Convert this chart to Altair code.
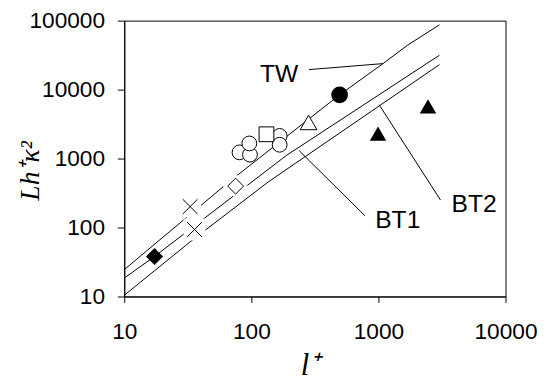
import altair as alt
import pandas as pd

# ---- axis ticks ----
x_ticks = [10, 100, 1000, 10000]
y_ticks = [10, 100, 1000, 10000, 100000]

# ---- model curves ----
tw_x = [10, 66.7, 495, 1086, 1694, 3020]
tw_y = [24.5, 459, 8400, 23800, 44000, 87000]
bt1_x = [10, 17.3, 188, 3020]
bt1_y = [18.5, 38, 1104, 31500]
bt2_x = [10, 33.6, 136, 3020]
bt2_y = [10.4, 63.7, 459, 23000]

# ---- data points ----
filled_diamond_x = [17.3]
filled_diamond_y = [38]
cross_x = [33, 35.7]
cross_y = [201, 93.6]
open_diamond_x = [75.2]
open_diamond_y = [398]
circle_x = [80.7, 97.5, 96.4, 167, 167]
circle_y = [1230, 1140, 1656, 2130, 1585]
square_x = [131.5]
square_y = [2250]
open_tri_x = [282]
open_tri_y = [3340]
filled_circle_x = [495]
filled_circle_y = [8400]
filled_tri_x = [993, 2455]
filled_tri_y = [2300, 5710]

# ---- annotations ----
labels = ["TW", "BT1", "BT2"]
label_x = [165.6, 1419, 5663]
label_y = [16900, 126, 220]
leader_x = [284.5, 238, 1012]
leader_y = [19500, 1300, 6040]
leader_x2 = [1086, 783, 3076]
leader_y2 = [23800, 148, 251]

x_scale = alt.Scale(type="log", domain=[10, 10000], nice=False)
y_scale = alt.Scale(type="log", domain=[10, 100000], nice=False)

common_axis = dict(
    grid=False, format="d", tickColor="black", tickWidth=1,
    domainColor="black", domainWidth=1, labelColor="black",
    labelFont="Liberation Sans", labelFontSize=23, labelFlush=False,
    labelOverlap=False, titleFont="Liberation Serif", titleFontStyle="italic",
    titleFontWeight="normal", titleColor="black",
)
x_axis = alt.Axis(values=x_ticks, tickSize=6, labelPadding=19, title="l\u207a",
                  titleFontSize=31, titleX=188, titleY=79, titleAlign="center",
                  titleBaseline="alphabetic", **common_axis)
y_axis = alt.Axis(values=y_ticks, tickSize=7, labelPadding=13, title="Lh\u207a\u03ba\u00b2",
                  titleFontSize=28, titleAngle=270, titleX=-87, titleY=152,
                  titleAlign="center", titleBaseline="alphabetic", **common_axis)


def X(f="x"):
    return alt.X(f + ":Q", scale=x_scale, axis=x_axis)


def Y(f="y"):
    return alt.Y(f + ":Q", scale=y_scale, axis=y_axis)


def series_df(name, xs, ys):
    return pd.DataFrame({"x": xs, "y": ys, "series": name, "ord": list(range(len(xs)))})


lines_df = pd.concat([
    series_df("TW", tw_x, tw_y),
    series_df("BT1", bt1_x, bt1_y),
    series_df("BT2", bt2_x, bt2_y),
], ignore_index=True)

lines = alt.Chart(lines_df).mark_line(color="black", strokeWidth=1).encode(
    x=X(), y=Y(), detail="series:N", order="ord:Q")

leaders_df = pd.DataFrame({"x": leader_x, "y": leader_y, "x2": leader_x2, "y2": leader_y2})
leaders = alt.Chart(leaders_df).mark_rule(color="black", strokeWidth=1).encode(
    x=X(), y=Y(), x2="x2:Q", y2="y2:Q")


def pts(xs, ys, **mark):
    df = pd.DataFrame({"x": xs, "y": ys})
    return alt.Chart(df).mark_point(opacity=1, **mark).encode(x=X(), y=Y())


halo_cross = pts(cross_x, cross_y, shape="square", size=484, filled=True, color="white")
halo_diamond = pts(open_diamond_x, open_diamond_y, shape="diamond", size=650, filled=True, color="white")

open_kw = dict(filled=True, fill="white", stroke="black", strokeWidth=1)
circles = pts(circle_x, circle_y, shape="circle", size=225, **open_kw)
square = pts(square_x, square_y, shape="square", size=225, **open_kw)
open_diamond = pts(open_diamond_x, open_diamond_y, shape="diamond", size=260, **open_kw)
open_tri = pts(open_tri_x, open_tri_y, shape="triangle-up", size=289, **open_kw)
filled_diamond = pts(filled_diamond_x, filled_diamond_y, shape="diamond", size=300, filled=True, color="black")
filled_circle = pts(filled_circle_x, filled_circle_y, shape="circle", size=290, filled=True, color="black")
filled_tri = pts(filled_tri_x, filled_tri_y, shape="triangle-up", size=280, filled=True, color="black")
crosses = pts(cross_x, cross_y, shape="M-1,-1L1,1M1,-1L-1,1", size=225, filled=False,
              color="black", strokeWidth=1)

labels_df = pd.DataFrame({"x": label_x, "y": label_y, "t": labels})
texts = alt.Chart(labels_df).mark_text(font="Liberation Sans", fontSize=25, color="black",
                                       align="center", baseline="middle").encode(
    x=X(), y=Y(), text="t:N")

chart = alt.layer(
    lines, leaders, halo_cross, halo_diamond,
    circles, square, open_diamond, open_tri, filled_diamond, filled_circle, filled_tri,
    crosses, texts,
).properties(
    width=387, height=280,
    padding={"left": 118, "top": 10, "right": 35, "bottom": 85},
    autosize=alt.AutoSizeParams(type="none"),
    background="white",
).configure_view(stroke="black", strokeWidth=1)

chart.save("out.html", embed_options={"renderer": "svg", "actions": False})
